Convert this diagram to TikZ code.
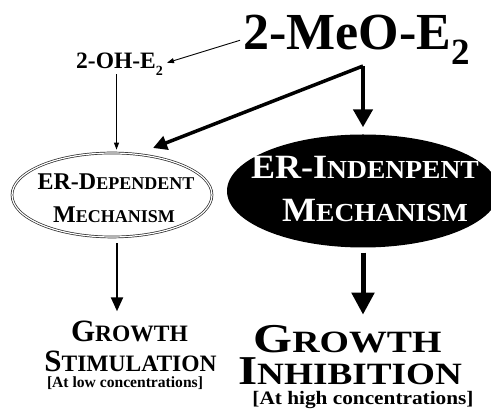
\documentclass[tikz,border=0pt]{standalone}
\usepackage{fontspec}
\usepackage{graphicx}
\setmainfont{Liberation Serif}
\usetikzlibrary{arrows.meta,shapes.geometric}
\newcommand\fsc[4]{{\fontsize{#1}{#1}\selectfont #3}{\fontsize{#2}{#2}\selectfont #4}}
\begin{document}
\begin{tikzpicture}[x=1pt,y=-1pt,
  txt/.style={inner sep=0pt,font=\bfseries,anchor=base},
  thin/.style={line width=0.9pt,-{Triangle[length=7pt,width=5pt]}},
  thickA/.style={line width=3.5pt,-{Triangle[length=14pt,width=14pt]}},
  thickB/.style={line width=4.5pt,-{Triangle[length=18pt,width=19pt]}},
  midA/.style={line width=2.2pt,-{Triangle[length=14pt,width=12pt]}},
  thickC/.style={line width=5pt,-{Triangle[length=22pt,width=22pt]}}]
\useasboundingbox (0,0) rectangle (491,411);
% ellipses
\node[ellipse,draw=black!85,double=white,double distance=1.2pt,line width=0.7pt,
  minimum width=200pt,minimum height=84pt,inner sep=0pt] (dep) at (112,195) {};
\node[ellipse,fill=black,minimum width=272pt,minimum height=113pt,inner sep=0pt] (indep) at (363,191) {};
% texts
\node[txt,anchor=base west] (meo) at (243,50)
  {{\fontsize{52}{52}\selectfont 2-MeO-E}\raisebox{-15pt}{\fontsize{37}{37}\selectfont 2}};
\node[txt,anchor=base west] (oh) at (76,69)
  {{\fontsize{23.5}{23.5}\selectfont 2-OH-E}\raisebox{-7pt}{\fontsize{14}{14}\selectfont 2}};
\node[txt] (depA) at (116,190) {\fsc{24}{18}{ER-D}{EPENDENT}};
\node[txt] (depB) at (114,223) {\fsc{24}{18}{M}{ECHANISM}};
\node[txt,text=white] (indepA) at (365,179) {\scalebox{1.06}[1]{\fsc{34}{26}{ER-I}{NDENPENT}}};
\node[txt,text=white] (indepB) at (375,222) {\scalebox{1.06}[1]{\fsc{34}{26}{M}{ECHANISM}}};
\node[txt] (gsA) at (129.5,342) {\fsc{31}{23.5}{G}{ROWTH}};
\node[txt] (gsB) at (130.5,372) {\fsc{31}{23.5}{S}{TIMULATION}};
\node[txt] (gsC) at (125,388) {\fontsize{15.6}{15.6}\selectfont [At low concentrations]};
\node[txt] (giA) at (347.5,353) {\scalebox{1.22}[1]{\fsc{41}{31}{G}{ROWTH}}};
\node[txt] (giB) at (350,385) {\scalebox{1.2}[1]{\fsc{41}{31}{I}{NHIBITION}}};
\node[txt] (giC) at (363,405) {\scalebox{1.12}[1]{\fontsize{19}{19}\selectfont [At high concentrations]}};
% connectors
\coordinate (fork) at (363,66);
\draw[thin] ([xshift=-3pt]meo.west) -- ([xshift=4pt,yshift=2pt]oh.east);
\draw[thin] ([xshift=-3pt,yshift=2pt]oh.south) -- ([xshift=-3pt,yshift=3pt]oh.south |- dep.north);
\draw[thickA] (fork) -- ([shift={(41,-47)}]dep.center);
\draw[thickB] (fork) -- ([yshift=7pt]fork |- indep.north);
\draw[midA] ([xshift=5pt,yshift=-6pt]dep.south) -- ([xshift=5pt,yshift=10pt]dep.south |- gsA.north);
\draw[thickC] ([yshift=-5pt]fork |- indep.south) -- ([yshift=11pt]fork |- giA.north);
\end{tikzpicture}
\end{document}
